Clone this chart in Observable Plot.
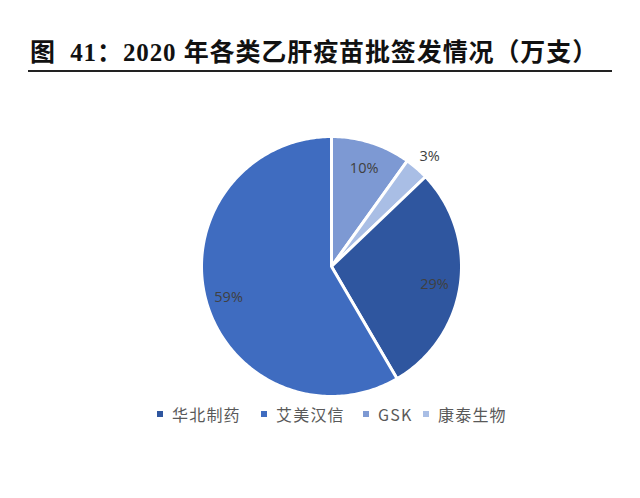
<!DOCTYPE html>
<html><head><meta charset="utf-8">
<script src="https://cdn.jsdelivr.net/npm/d3@7"></script>
<script src="https://cdn.jsdelivr.net/npm/@observablehq/plot@0.6"></script>
<style>
body{margin:0;background:#fff;width:640px;overflow:hidden;}
#title{height:80px;position:relative;}
#title .t{position:absolute;left:30px;top:32px;font-family:"Liberation Serif","Noto Sans CJK SC",serif;font-weight:bold;font-size:25px;color:#111;white-space:nowrap;letter-spacing:0.9px;}
#title .rule{position:absolute;left:28px;width:584px;top:70px;height:2px;background:#222;}
#legend{position:relative;height:40px;font-family:"Noto Sans CJK SC","Open Sans",sans-serif;font-size:16px;color:#595959;letter-spacing:1.2px;}
#legend .item{position:absolute;top:2px;display:flex;align-items:center;white-space:nowrap;}
#legend .sw{width:6px;height:6px;margin-right:9px;}
</style></head>
<body>
<div id="title"><div class="t">图&nbsp; 41：2020 年各类乙肝疫苗批签发情况（万支）</div><div class="rule"></div></div>
<div id="chart"></div>
<div id="legend"></div>
<script>
const companies = ["华北制药", "艾美汉信", "GSK", "康泰生物"];
const shares = [29, 59, 10, 3];
const colors = ["#2F569F", "#3F6CC0", "#7D99D3", "#A9BEE5"];
const drawOrder = ["GSK", "康泰生物", "华北制药", "艾美汉信"]; // clockwise from 12 o'clock
const labelRadius = [0.8, 0.82, 0.82, 1.15];
const legendX = [157, 261, 363, 423];

const W = 640, H = 320, R = 130, cx = 331, cy = 186;

const rows = drawOrder.map(n => {
  const i = companies.indexOf(n);
  return {name: n, share: shares[i], color: colors[i], lr: labelRadius[i]};
});
const arcs = d3.pie().sort(null).value(d => d.share)(rows);

const pts = [];
for (const a of arcs) {
  pts.push({name: a.data.name, color: a.data.color, x: 0, y: 0});
  const n = Math.max(4, Math.ceil((a.endAngle - a.startAngle) * 60));
  for (let k = 0; k <= n; k++) {
    const t = a.startAngle + (a.endAngle - a.startAngle) * k / n;
    pts.push({name: a.data.name, color: a.data.color, x: Math.sin(t), y: Math.cos(t)});
  }
  pts.push({name: a.data.name, color: a.data.color, x: 0, y: 0});
}
const labels = arcs.map(a => {
  const m = (a.startAngle + a.endAngle) / 2;
  return {text: a.data.share + "%", x: a.data.lr * Math.sin(m), y: a.data.lr * Math.cos(m)};
});

const chart = Plot.plot({
  width: W, height: H,
  margin: 0,
  x: {domain: [-cx / R, (W - cx) / R], range: [0, W], axis: null},
  y: {domain: [-(H - cy) / R, cy / R], range: [H, 0], axis: null},
  style: {background: "#fff"},
  marks: [
    Plot.line(pts, {x: "x", y: "y", z: "name", fill: "color", stroke: "#fff", strokeWidth: 3, strokeLinejoin: "round", curve: "linear"}),
    Plot.text(labels, {x: "x", y: "y", dy: 3, text: "text", fill: "#404040", fontSize: 14.5, fontFamily: "Open Sans, Noto Sans, sans-serif"})
  ]
});
document.getElementById("chart").appendChild(chart);

const leg = document.getElementById("legend");
companies.forEach((c, i) => {
  const it = document.createElement("div");
  it.className = "item";
  it.style.left = legendX[i] + "px";
  it.innerHTML = `<span class="sw" style="background:${colors[i]}"></span><span>${c}</span>`;
  leg.appendChild(it);
});
</script>
</body></html>
